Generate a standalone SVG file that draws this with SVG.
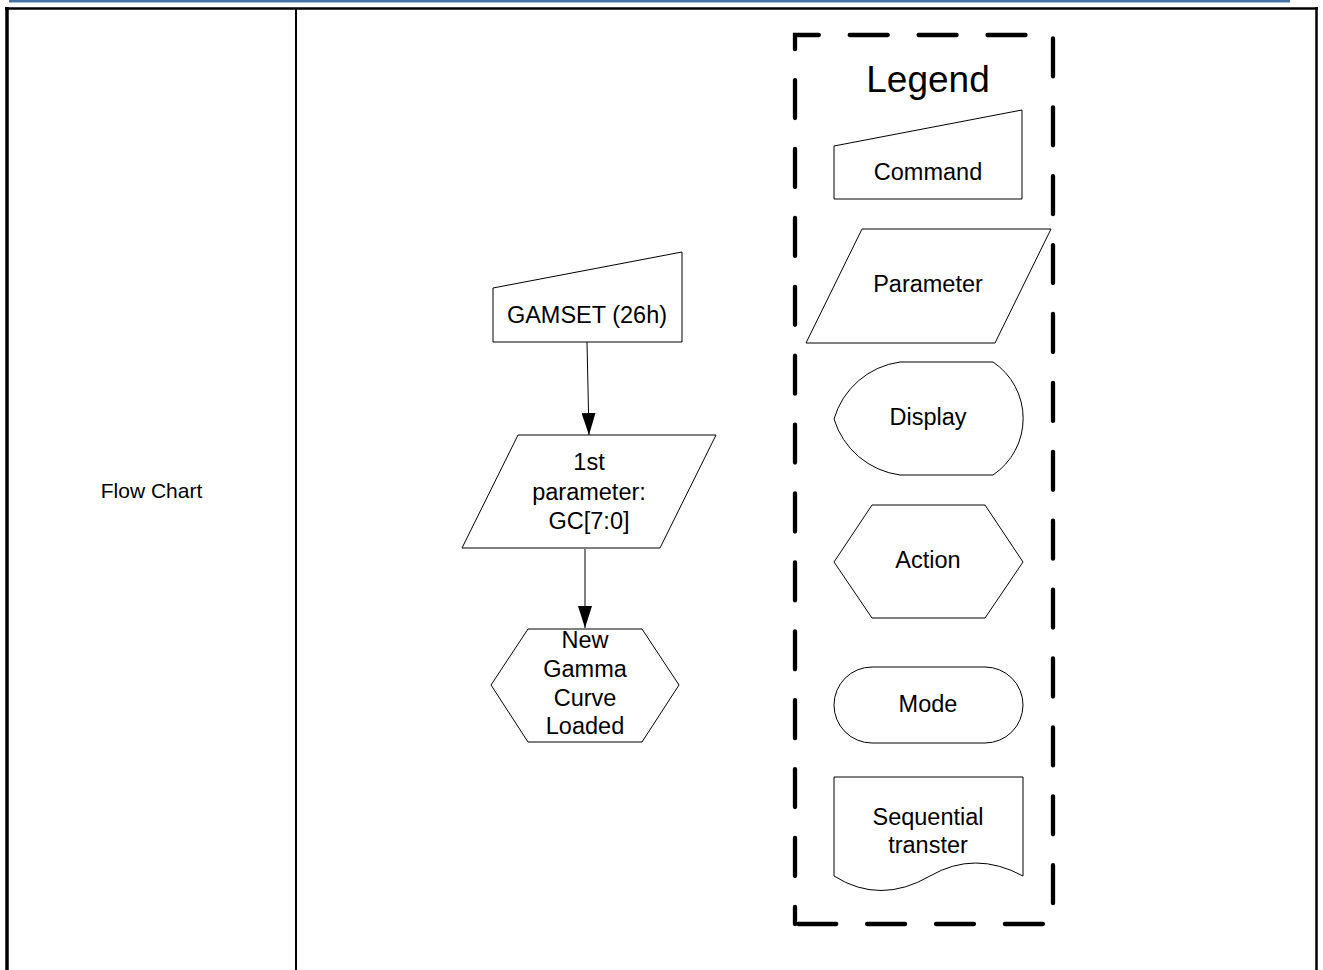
<svg xmlns="http://www.w3.org/2000/svg" width="1323" height="970" viewBox="0 0 1323 970">
<style>
.shape{fill:#fff;stroke:#000;stroke-width:1}
.t{font-family:"Liberation Sans",Arial,sans-serif;font-size:23.5px;fill:#000;text-anchor:middle}
.conn{stroke:#000;stroke-width:1;fill:none}
.border{stroke:#000;fill:none}
</style>
<defs>
<marker id="arr" markerUnits="userSpaceOnUse" markerWidth="22" markerHeight="14" viewBox="0 0 22 14" refX="22" refY="7" orient="auto">
<path d="M0,0 L22,7 L0,14 Z" fill="#000"/>
</marker>
</defs>
<rect x="9" y="0" width="1281" height="2" fill="#4472a8"/>
<rect x="9" y="2" width="1281" height="1" fill="#a9bfdc"/>
<g id="table">
<line class="border" x1="5" y1="8.5" x2="1318" y2="8.5" stroke-width="2.5"/>
<line class="border" x1="7" y1="7" x2="7" y2="970" stroke-width="3.5"/>
<line class="border" x1="1316.5" y1="7" x2="1316.5" y2="970" stroke-width="2.5"/>
<line class="border" x1="296" y1="9" x2="296" y2="970" stroke-width="2"/>
</g>
<g id="label-flowchart">
<text class="t" x="151.5" y="497.5" style="font-size:21px">Flow Chart</text>
</g>
<g id="legend-box">
<path d="M795,924 L795,35 L1053,35 L1053,924 Z" fill="none" stroke="#000" stroke-width="4.3" stroke-linecap="round" stroke-dasharray="38 30.9" stroke-dashoffset="20.9"/>
<text class="t" x="928" y="92" style="font-size:37px">Legend</text>
</g>
<g id="connectors">
<line class="conn" x1="587" y1="342" x2="589" y2="435" marker-end="url(#arr)"/>
<line class="conn" x1="585" y1="549" x2="585" y2="628" marker-end="url(#arr)"/>
</g>
<g id="node-gamset">
<polygon class="shape" points="493,288 682,252 682,342 493,342"/>
<text class="t" x="587" y="323">GAMSET (26h)</text>
</g>
<g id="node-param">
<polygon class="shape" points="518,435 716,435 660,548 462,548"/>
<text class="t" x="589" y="470">1st</text>
<text class="t" x="589" y="500">parameter:</text>
<text class="t" x="589" y="529">GC[7:0]</text>
</g>
<g id="node-gamma">
<polygon class="shape" points="528,629 642,629 679,685 642,742 528,742 491,685"/>
<text class="t" x="585" y="648">New</text>
<text class="t" x="585" y="677">Gamma</text>
<text class="t" x="585" y="706">Curve</text>
<text class="t" x="585" y="734">Loaded</text>
</g>
<g id="legend-command">
<polygon class="shape" points="834,146 1022,110 1022,199 834,199"/>
<text class="t" x="928" y="180">Command</text>
</g>
<g id="legend-parameter">
<polygon class="shape" points="862,229 1051,229 995,343 806,343"/>
<text class="t" x="928" y="292">Parameter</text>
</g>
<g id="legend-display">
<path class="shape" d="M900,362 L993,362 A68,68 0 0 1 993,475 L900,475 A80,80 0 0 1 834,419 A80,80 0 0 1 900,362 Z"/>
<text class="t" x="928" y="425">Display</text>
</g>
<g id="legend-action">
<polygon class="shape" points="872,505 985,505 1023,562 985,618 872,618 834,562"/>
<text class="t" x="928" y="568">Action</text>
</g>
<g id="legend-mode">
<rect class="shape" x="834" y="667" width="189" height="76" rx="38" ry="38"/>
<text class="t" x="928" y="712">Mode</text>
</g>
<g id="legend-sequential">
<path class="shape" d="M834,777 L1023,777 L1023,876 Q975,850 930,876 Q880,905 834,876 Z"/>
<text class="t" x="928" y="825">Sequential</text>
<text class="t" x="928" y="853">transter</text>
</g>
</svg>
